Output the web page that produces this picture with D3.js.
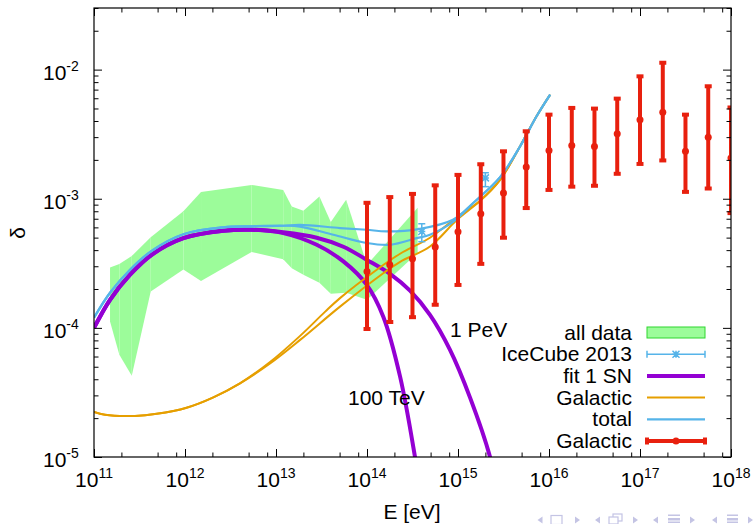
<!DOCTYPE html>
<html>
<head>
<meta charset="utf-8">
<title>delta vs E</title>
<script src="https://cdn.jsdelivr.net/npm/d3@7"></script>
<style>
  body { margin: 0; background: #fff; }
  svg { display: block; font-family: "Liberation Sans", Arial, Helvetica, sans-serif; }
</style>
</head>
<body>
<svg id="chart" width="754" height="524"></svg>
<script>
// ---- values ----
// "all data" band
var bandE  = [1.5e11, 1.9e11, 2.6e11, 4.2e11, 9.6e11, 1.5e12, 5.4e12, 1.2e13, 1.49e13, 2.0e13, 3.0e13, 4.0e13, 5.9e13, 1.0e14, 3.6e14]
var bandHi = [2.93e-4, 3.12e-4, 3.61e-4, 5.03e-4, 8.0e-4, 1.13e-3, 1.28e-3, 1.17e-3, 8.7e-4, 8.07e-4, 1.04e-3, 6.6e-4, 9.8e-4, 3.08e-4, 8.5e-4]
var bandLo = [1.12e-4, 6.2e-5, 4.25e-5, 1.91e-4, 2.83e-4, 2.31e-4, 3.87e-4, 3.4e-4, 2.9e-4, 2.58e-4, 2.24e-4, 1.84e-4, 1.87e-4, 1.65e-4, 3.81e-4]

// IceCube 2013
var icE  = [4.0e14, 2.0e15]
var icD  = [5.58e-4, 1.45e-3]
var icHi = [6.4e-4, 1.59e-3]
var icLo = [4.65e-4, 1.24e-3]

// Galactic points
var galE  = [1e14, 1.78e14, 3.16e14, 5.62e14, 1e15, 1.78e15, 3.16e15, 5.62e15, 1e16, 1.78e16, 3.16e16, 5.62e16, 1e17, 1.78e17, 3.16e17, 5.62e17, 1e18]
var galD  = [2.73e-4, 3.08e-4, 3.43e-4, 4.23e-4, 5.55e-4, 7.66e-4, 1.11e-3, 1.76e-3, 2.36e-3, 2.58e-3, 2.54e-3, 3.19e-3, 4.09e-3, 4.67e-3, 2.33e-3, 2.99e-3, 2.07e-3]
var galHi = [9.3e-4, 1.03e-3, 1.09e-3, 1.27e-3, 1.53e-3, 1.85e-3, 2.33e-3, 3.33e-3, 4.48e-3, 5.05e-3, 4.99e-3, 5.96e-3, 8.87e-3, 1.13e-2, 4.48e-3, 7.43e-3, 5.09e-3]
var galLo = [9.8e-5, 1.11e-4, 1.21e-4, 1.51e-4, 2.15e-4, 3.13e-4, 4.99e-4, 8.47e-4, 1.17e-3, 1.24e-3, 1.26e-3, 1.56e-3, 1.86e-3, 1.98e-3, 1.13e-3, 1.20e-3, 7.74e-4]

// fit 1 SN, cutoff 100 TeV and 1 PeV  [E, delta]
var sn100 = [[1e11,1.0e-4],[1.5e11,1.65e-4],[2.49e11,2.58e-4],[4.3e11,3.68e-4],[9.6e11,4.95e-4],[2.64e12,5.65e-4],[5.4e12,5.75e-4],[1.2e13,5.42e-4],[2.8e13,4.4e-4],[5.5e13,3.27e-4],[9.9e13,2.16e-4],[1.51e14,1.22e-4],[2.31e14,4.19e-5],[3.37e14,1e-5],[3.7e14,6.6e-6]]
var sn1000 = [[1e11,1.0e-4],[1.5e11,1.65e-4],[2.49e11,2.58e-4],[4.3e11,3.68e-4],[9.6e11,4.95e-4],[2.64e12,5.65e-4],[5.4e12,5.75e-4],[1.2e13,5.5e-4],[2.8e13,4.99e-4],[5.5e13,4.25e-4],[9.9e13,3.37e-4],[1.79e14,2.62e-4],[2.97e14,1.94e-4],[4.92e14,1.26e-4],[8.17e14,6.75e-5],[1.36e15,2.87e-5],[2.25e15,1e-5],[2.55e15,6.6e-6]]

// Galactic curves
var galA = [[1e11,2.23e-5],[1.32e11,2.12e-5],[2.82e11,2.08e-5],[4.89e11,2.16e-5],[1.04e12,2.41e-5],[2.05e12,2.9e-5],[4.02e12,3.72e-5],[8.6e12,5.44e-5],[1.84e13,8.67e-5],[3.45e13,1.33e-4],[5.05e13,1.70e-4],[1.28e14,2.82e-4],[2.31e14,3.75e-4],[4.92e14,4.99e-4],[9.75e14,7.19e-4],[1.75e15,9.64e-4],[2.9e15,1.40e-3],[4.8e15,2.54e-3],[7.3e15,4.35e-3],[1.03e16,6.4e-3]]
var galB = [[1e11,2.23e-5],[1.32e11,2.12e-5],[2.82e11,2.08e-5],[4.89e11,2.16e-5],[1.04e12,2.41e-5],[2.05e12,2.9e-5],[4.02e12,3.72e-5],[8.6e12,5.3e-5],[1.84e13,8.07e-5],[5.05e13,1.46e-4],[1.51e14,2.65e-4],[2.31e14,3.25e-4],[4.92e14,4.27e-4],[9.75e14,6.87e-4],[1.75e15,9.64e-4],[2.9e15,1.40e-3],[4.8e15,2.54e-3],[7.3e15,4.35e-3],[1.03e16,6.4e-3]]

// total
var totA = [[1e11,1.20e-4],[1.5e11,1.87e-4],[2.49e11,2.82e-4],[4.3e11,3.95e-4],[9.6e11,5.31e-4],[2.64e12,6.01e-4],[5.4e12,6.12e-4],[1.2e13,6.18e-4],[1.84e13,6.28e-4],[5.05e13,5.93e-4],[9.9e13,5.75e-4],[1.64e14,5.58e-4],[3.82e14,5.85e-4],[8.8e14,6.87e-4],[1.47e15,9.27e-4],[2.9e15,1.47e-3],[4.8e15,2.54e-3],[7.3e15,4.35e-3],[1.03e16,6.4e-3]]
var totB = [[1e11,1.20e-4],[1.5e11,1.87e-4],[2.49e11,2.82e-4],[4.3e11,3.95e-4],[9.6e11,5.31e-4],[2.64e12,6.01e-4],[5.4e12,6.12e-4],[1.2e13,6.18e-4],[1.84e13,6.09e-4],[4.27e13,5.26e-4],[9.9e13,4.54e-4],[1.79e14,4.40e-4],[3.52e14,4.95e-4],[4.92e14,5.26e-4],[8.9e14,6.64e-4],[1.47e15,9.27e-4],[2.9e15,1.47e-3],[4.8e15,2.54e-3],[7.3e15,4.35e-3],[1.03e16,6.4e-3]]

// ticks
var xTickExp = [11, 12, 13, 14, 15, 16, 17, 18]
var yTickExp = [-5, -4, -3, -2]
var xMinorMant = [2, 5, 8]
var yMinorMant = [2, 3, 4, 5, 6, 7, 8, 9]

var legendLabels = ['all data', 'IceCube 2013', 'fit 1 SN', 'Galactic', 'total', 'Galactic']

// ---- drawing ----
var purple = '#9400d3', orange = '#e69f00', blue = '#56b4e9', red = '#e8200e', green = '#9cfc9a'

var svg = d3.select('#chart')
var x0 = 94, x1 = 731, y0 = 8, y1 = 457

var x = d3.scaleLog().domain([1e11, 1e18]).range([x0, x1])
var y = d3.scaleLog().domain([1e-5, 3e-2]).range([y1, y0])

svg.append('clipPath').attr('id', 'clip')
  .append('rect').attr('x', x0).attr('y', y0).attr('width', x1 - x0).attr('height', y1 - y0)

var plot = svg.append('g').attr('clip-path', 'url(#clip)')

// band, one quad per segment (leaves faint seams like the original)
d3.range(bandE.length - 1).forEach(function (i) {
  var pts = [[bandE[i], bandHi[i]], [bandE[i + 1], bandHi[i + 1]], [bandE[i + 1], bandLo[i + 1]], [bandE[i], bandLo[i]]]
  plot.append('path')
    .attr('d', 'M' + pts.map(function (p) { return x(p[0]) + ',' + y(p[1]) }).join('L') + 'Z')
    .attr('fill', green)
})

var line = d3.line()
  .x(function (d) { return x(d[0]) })
  .y(function (d) { return y(d[1]) })
  .curve(d3.curveCatmullRom.alpha(0.5))

function curve(data, color, w) {
  plot.append('path').attr('d', line(data))
    .attr('fill', 'none').attr('stroke', color).attr('stroke-width', w)
}

curve(sn100, purple, 4)
curve(sn1000, purple, 4)
curve(galA, orange, 2)
curve(galB, orange, 2)
curve(totA, blue, 2.2)
curve(totB, blue, 2.2)

function asterisk(g, cx, cy, r, color) {
  var p = 'M' + (cx - r) + ',' + cy + 'H' + (cx + r) +
    'M' + cx + ',' + (cy - r) + 'V' + (cy + r) +
    'M' + (cx - r) + ',' + (cy - r) + 'L' + (cx + r) + ',' + (cy + r) +
    'M' + (cx - r) + ',' + (cy + r) + 'L' + (cx + r) + ',' + (cy - r)
  g.append('path').attr('d', p).attr('stroke', color).attr('stroke-width', 1.5).attr('fill', 'none')
}

// IceCube points
icE.forEach(function (e, i) {
  var cx = x(e)
  var g = plot.append('g').attr('stroke', blue).attr('stroke-width', 1.5)
  g.append('line').attr('x1', cx).attr('x2', cx).attr('y1', y(icLo[i])).attr('y2', y(icHi[i]))
  g.append('line').attr('x1', cx - 3.5).attr('x2', cx + 3.5).attr('y1', y(icLo[i])).attr('y2', y(icLo[i]))
  g.append('line').attr('x1', cx - 3.5).attr('x2', cx + 3.5).attr('y1', y(icHi[i])).attr('y2', y(icHi[i]))
  asterisk(plot, cx, y(icD[i]), 3.5, blue)
})

// Galactic points
galE.forEach(function (e, i) {
  var cx = x(e)
  var g = plot.append('g').attr('stroke', red).attr('stroke-width', 4)
  g.append('line').attr('x1', cx).attr('x2', cx).attr('y1', y(galLo[i])).attr('y2', y(galHi[i]))
  g.append('line').attr('x1', cx - 3.5).attr('x2', cx + 3.5).attr('y1', y(galLo[i])).attr('y2', y(galLo[i]))
  g.append('line').attr('x1', cx - 3.5).attr('x2', cx + 3.5).attr('y1', y(galHi[i])).attr('y2', y(galHi[i]))
  plot.append('circle').attr('cx', cx).attr('cy', y(galD[i])).attr('r', 3.5).attr('fill', red)
})

// ---- axes ----
var xMajor = xTickExp.map(function (k) { return Math.pow(10, k) })
var yMajor = yTickExp.map(function (k) { return Math.pow(10, k) })
var xMinor = [], yMinor = []
xTickExp.slice(0, -1).forEach(function (k) { xMinorMant.forEach(function (m) { xMinor.push(m * Math.pow(10, k)) }) })
yTickExp.forEach(function (k) { yMinorMant.forEach(function (m) { var v = m * Math.pow(10, k); if (v <= 3e-2) yMinor.push(v) }) })

function ticks(axis, vals, size, tr) {
  svg.append('g').attr('transform', tr)
    .call(axis.tickValues(vals).tickSizeInner(-size).tickSizeOuter(0).tickFormat(''))
    .call(function (g) { g.select('.domain').remove(); g.selectAll('text').remove() })
    .selectAll('line').attr('stroke', '#000')
}
ticks(d3.axisBottom(x), xMajor, 8, 'translate(0,' + y1 + ')')
ticks(d3.axisBottom(x), xMinor, 4.5, 'translate(0,' + y1 + ')')
ticks(d3.axisTop(x), xMajor, 8, 'translate(0,' + y0 + ')')
ticks(d3.axisTop(x), xMinor, 4.5, 'translate(0,' + y0 + ')')
ticks(d3.axisLeft(y), yMajor, 8, 'translate(' + x0 + ',0)')
ticks(d3.axisLeft(y), yMinor, 4.5, 'translate(' + x0 + ',0)')
ticks(d3.axisRight(y), yMajor, 8, 'translate(' + x1 + ',0)')
ticks(d3.axisRight(y), yMinor, 4.5, 'translate(' + x1 + ',0)')

svg.append('rect').attr('x', x0).attr('y', y0).attr('width', x1 - x0).attr('height', y1 - y0)
  .attr('fill', 'none').attr('stroke', '#000').attr('stroke-width', 1.2)

function power(t, exp) {
  t.append('tspan').text('10')
  t.append('tspan').attr('font-size', 14).attr('dy', -9).text(exp)
}

xTickExp.forEach(function (k) {
  svg.append('text').attr('x', x(Math.pow(10, k))).attr('y', 487)
    .attr('text-anchor', 'middle').attr('font-size', 21).call(power, k)
})
yTickExp.forEach(function (k) {
  svg.append('text').attr('x', 43).attr('y', y(Math.pow(10, k)) + 10)
    .attr('font-size', 21).call(power, k)
})

svg.append('text').attr('x', 412).attr('y', 519).attr('text-anchor', 'middle')
  .attr('font-size', 21).text('E [eV]')
svg.append('text').attr('transform', 'translate(25,233) rotate(-90)').attr('text-anchor', 'middle')
  .attr('font-size', 21).text('δ')

svg.append('text').attr('x', 450).attr('y', 337).attr('font-size', 21).text('1 PeV')
svg.append('text').attr('x', 348).attr('y', 404.5).attr('font-size', 21).text('100 TeV')

// ---- legend ----
var lg = svg.append('g')
var lx0 = 647, lx1 = 705
legendLabels.forEach(function (s, i) {
  var by = 339.5 + i * 21.7, cy = by - 7
  lg.append('text').attr('x', 632).attr('y', by).attr('text-anchor', 'end').attr('font-size', 21).text(s)
  if (i === 0) {
    lg.append('rect').attr('x', lx0).attr('y', cy - 5.5).attr('width', lx1 - lx0).attr('height', 11)
      .attr('fill', green).attr('stroke', '#2fd62f').attr('stroke-width', 1)
  } else if (i === 1) {
    var g = lg.append('g').attr('stroke', blue).attr('stroke-width', 1.5)
    g.append('line').attr('x1', lx0).attr('x2', lx1).attr('y1', cy).attr('y2', cy)
    g.append('line').attr('x1', lx0).attr('x2', lx0).attr('y1', cy - 3.5).attr('y2', cy + 3.5)
    g.append('line').attr('x1', lx1).attr('x2', lx1).attr('y1', cy - 3.5).attr('y2', cy + 3.5)
    asterisk(lg, (lx0 + lx1) / 2, cy, 3.5, blue)
  } else if (i === 5) {
    var g2 = lg.append('g').attr('stroke', red).attr('stroke-width', 4)
    g2.append('line').attr('x1', lx0).attr('x2', lx1).attr('y1', cy).attr('y2', cy)
    g2.append('line').attr('x1', lx0).attr('x2', lx0).attr('y1', cy - 3.5).attr('y2', cy + 3.5)
    g2.append('line').attr('x1', lx1).attr('x2', lx1).attr('y1', cy - 3.5).attr('y2', cy + 3.5)
    lg.append('circle').attr('cx', (lx0 + lx1) / 2).attr('cy', cy).attr('r', 3.5).attr('fill', red)
  } else {
    var col = [null, null, purple, orange, blue][i], w = [0, 0, 4, 2, 2.2][i]
    lg.append('line').attr('x1', lx0).attr('x2', lx1).attr('y1', cy).attr('y2', cy)
      .attr('stroke', col).attr('stroke-width', w)
  }
})

// ---- beamer navigation symbols ----
var nav = svg.append('g').attr('fill', '#c4c4e4').attr('stroke', '#c4c4e4')
function triL(cx) { nav.append('path').attr('d', 'M' + (cx + 2.5) + ',516.5L' + (cx - 2.5) + ',520L' + (cx + 2.5) + ',523.5Z').attr('stroke', 'none') }
function triR(cx) { nav.append('path').attr('d', 'M' + (cx - 2.5) + ',516.5L' + (cx + 2.5) + ',520L' + (cx - 2.5) + ',523.5Z').attr('stroke', 'none') }
function menu(xa, xb) {
  [515.5, 519, 522.5].forEach(function (yy, j) {
    nav.append('rect').attr('x', xa).attr('y', yy - 1).attr('width', xb - xa).attr('height', j === 1 ? 2.5 : 1.5).attr('stroke', 'none')
  })
}
triL(540)
nav.append('rect').attr('x', 551).attr('y', 515.5).attr('width', 11).attr('height', 9).attr('fill', 'none').attr('stroke-width', 1.2)
triR(577.5)
triL(597.5)
nav.append('rect').attr('x', 613).attr('y', 514).attr('width', 9).attr('height', 7).attr('fill', 'none').attr('stroke-width', 1.2)
nav.append('rect').attr('x', 609).attr('y', 517).attr('width', 9).attr('height', 7).attr('fill', '#fff').attr('stroke-width', 1.2)
triR(635.5)
triL(655.5)
menu(668, 680)
triR(692.5)
triL(714.5)
menu(727, 738)
triR(750.5)
</script>
</body>
</html>
